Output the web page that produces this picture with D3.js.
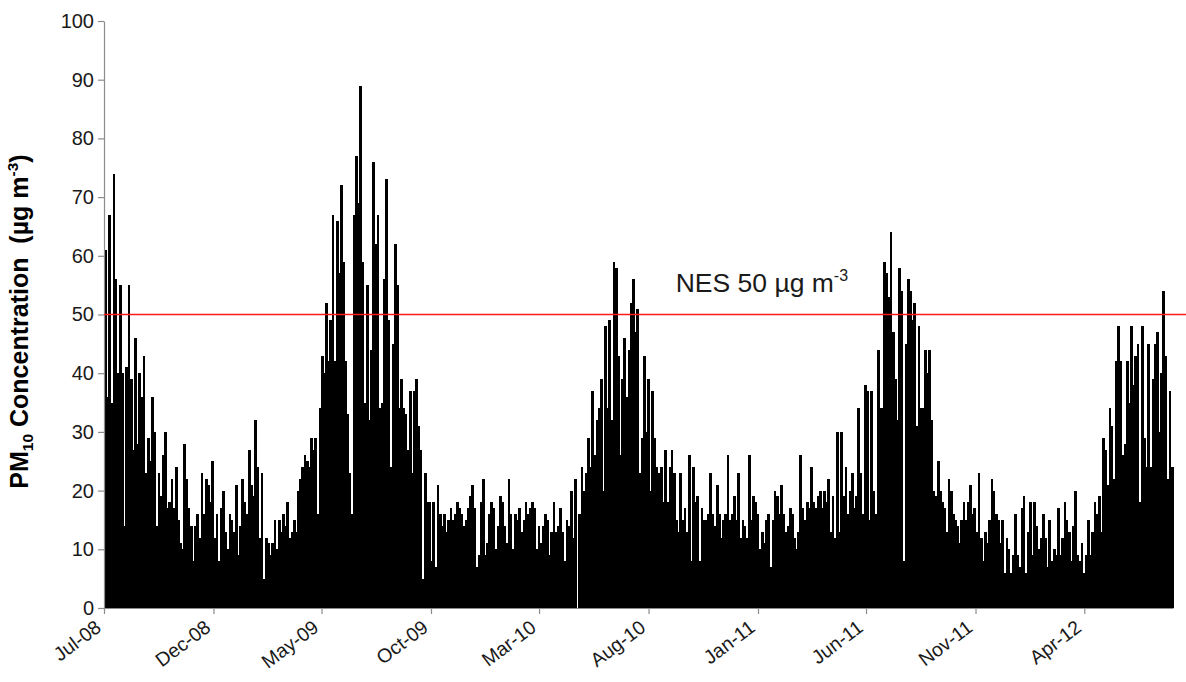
<!DOCTYPE html>
<html>
<head>
<meta charset="utf-8">
<script src="https://cdn.jsdelivr.net/npm/d3@7"></script>
<style>
  html, body { margin: 0; padding: 0; background: #fff; }
  svg { display: block; font-family: "Liberation Sans", Arial, sans-serif; }
</style>
</head>
<body>
<svg id="chart" width="1186" height="682"></svg>
<script>
// Daily PM10 samples, one every third day starting 1 July 2008 (µg m-3)
const pm10_2008 = [61,36,67,35,74,56,40,55,40,14,41,55,39,27,46,28,40,36,43,23,29,25,36,30,14,23,19,26,30,17,18,22,17,24,15,11,10,28,22,17,14,8,14,16,12,23,16,22,
  21,18,25,12,16,8,17,20,13,10,16,15,13,21];
const pm10_2009 = [9,14,22,18,16,27,21,19,32,24,12,23,5,12,11,9,11,15,10,15,13,16,14,18,12,13,15,13,20,22,24,26,25,24,29,27,
  29,16,34,43,40,52,42,49,67,42,66,57,72,59,42,33,23,16,67,77,69,89,59,35,55,32,44,76,62,67,34,35,56,73,49,24,45,62,55,34,39,34,33,27,37,23,37,39,31,27,
  5,23,18,18,8,18,7,21,16,14,16,13,15,17,15,16,18,17,16,14,15,17,19,21,17,7,9,18,22,9,11,16,18,17,10];
const pm10_2010 = [14,19,18,14,11,22,16,10,16,15,17,13,15,18,16,17,
  18,17,10,14,11,14,16,15,9,13,18,13,14,17,13,8,15,14,20,12,22,0,16,24,20,23,29,24,37,26,32,34,39,20,48,34,49,32,59,58,43,26,39,46,36,44,52,56,47,51,
  23,29,43,30,39,20,37,29,24,23,24,18,27,18,24,27,23,15,13,23,15,17,13,26,8,24,18,19,8,17,15,15,16,23,16,14,21,16,12,15,16,26,15,16,19,15,23,12,15,14,12,
  26,15,19,18,16];
const pm10_2011 = [10,13,11,15,16,7,15,20,19,16,21,16,13,14,17,16,12,10,13,26,17,15,18,17,24,18,17,19,20,17,20,18,22,13,19,12,30,13,30,19,24,16,20,23,17,
  19,34,23,16,38,37,15,37,20,16,44,34,34,59,57,53,64,47,39,32,58,54,8,45,56,54,49,52,31,48,34,34,44,40,44,32,20,19,25,20,18,17,13,22,20,16,15,14,11,15,18,
  15,18,21,16,17,13,23,12,8,13,11,15,22,20,16,15,11,15,6,12,10,6,9,16,9,7];
const pm10_2012 = [17,19,6,13,18,9,18,14,10,12,16,12,7,15,8,10,9,17,9,12,18,15,13,8,
  14,20,9,8,11,6,9,15,9,13,18,16,19,13,29,27,21,34,31,22,42,48,42,26,28,42,35,48,38,43,45,18,48,29,24,45,24,39,45,47,30,40,54,43,22,37,24];

const yTicks = [0,10,20,30,40,50,60,70,80,90,100];
const xTickLabels = ["Jul-08","Dec-08","May-09","Oct-09","Mar-10","Aug-10","Jan-11","Jun-11","Nov-11","Apr-12"];
const standardValue = 50;          // National Environmental Standard
const sampleEveryDays = 3;
const firstSample = new Date(Date.UTC(2008, 6, 1));
const lastDay = new Date(Date.UTC(2012, 7, 3));

const values = [].concat(pm10_2008, pm10_2009, pm10_2010, pm10_2011, pm10_2012);
const samples = values.map((v, i) => ({ date: d3.utcDay.offset(firstSample, i * sampleEveryDays), value: v }));

const W = 1186, H = 682;
const margin = { left: 104, right: 13, top: 21, bottom: 74 };
const svg = d3.select("#chart");

const x = d3.scaleUtc().domain([firstSample, lastDay]).range([margin.left, W - margin.right]);
const y = d3.scaleLinear().domain([0, 100]).range([H - margin.bottom, margin.top]);

// bars
svg.append("g")
  .attr("shape-rendering", "crispEdges")
  .selectAll("rect")
  .data(samples)
  .join("rect")
  .attr("x", d => x(d.date))
  .attr("width", d => x(d3.utcDay.offset(d.date, sampleEveryDays)) - x(d.date) + 0.6)
  .attr("y", d => y(d.value))
  .attr("height", d => y(0) - y(d.value))
  .attr("fill", "#000");

// y axis
const yAxis = svg.append("g")
  .attr("transform", `translate(${margin.left},0)`)
  .call(d3.axisLeft(y).tickValues(yTicks).tickSize(6).tickPadding(4).tickSizeOuter(0));
yAxis.select(".domain").attr("stroke", "#8c8c8c").attr("stroke-width", 1.2);
yAxis.selectAll(".tick line").attr("stroke", "#8c8c8c").attr("stroke-width", 1.2);
yAxis.selectAll(".tick text").attr("font-size", 20).attr("fill", "#1a1a1a");

// x axis
const parseTick = d3.utcParse("%b-%y");
const xTickDates = xTickLabels.map(parseTick);
const xAxis = svg.append("g")
  .attr("transform", `translate(0,${y(0)})`)
  .call(d3.axisBottom(x).tickValues(xTickDates).tickFormat(d3.utcFormat("%b-%y")).tickSize(6).tickSizeOuter(0));
xAxis.select(".domain").attr("stroke", "#8c8c8c").attr("stroke-width", 1.2);
xAxis.selectAll(".tick line").attr("stroke", "#8c8c8c").attr("stroke-width", 1.2);
xAxis.selectAll(".tick text")
  .attr("font-size", 19.5)
  .attr("fill", "#1a1a1a")
  .attr("text-anchor", "end")
  .attr("y", 0)
  .attr("dy", 0)
  .attr("transform", "translate(-2,22) rotate(-37)");

// NES reference line
svg.append("line")
  .attr("x1", margin.left).attr("x2", W)
  .attr("y1", y(standardValue)).attr("y2", y(standardValue))
  .attr("stroke", "#ff1a1a").attr("stroke-width", 1.6);

const nes = svg.append("text")
  .attr("x", x(new Date(Date.UTC(2010, 8, 8))))
  .attr("y", y(standardValue) - 23)
  .attr("font-size", 26.5).attr("fill", "#1a1a1a");
nes.append("tspan").text("NES 50 µg m");
nes.append("tspan").attr("font-size", 16).attr("dy", -11).text("-3");

// y axis title
const yt = svg.append("text")
  .attr("transform", `translate(28,${(y(0) + y(100)) / 2 + 7}) rotate(-90)`)
  .attr("text-anchor", "middle")
  .attr("font-size", 25).attr("font-weight", "bold").attr("fill", "#000")
  .attr("xml:space", "preserve");
yt.append("tspan").text("PM");
yt.append("tspan").attr("font-size", 15.5).attr("dy", 5).text("10");
yt.append("tspan").attr("dy", -5).text(" Concentration  (µg m");
yt.append("tspan").attr("font-size", 15.5).attr("dy", -10).text("-3");
yt.append("tspan").attr("dy", 10).text(")");
</script>
</body>
</html>
